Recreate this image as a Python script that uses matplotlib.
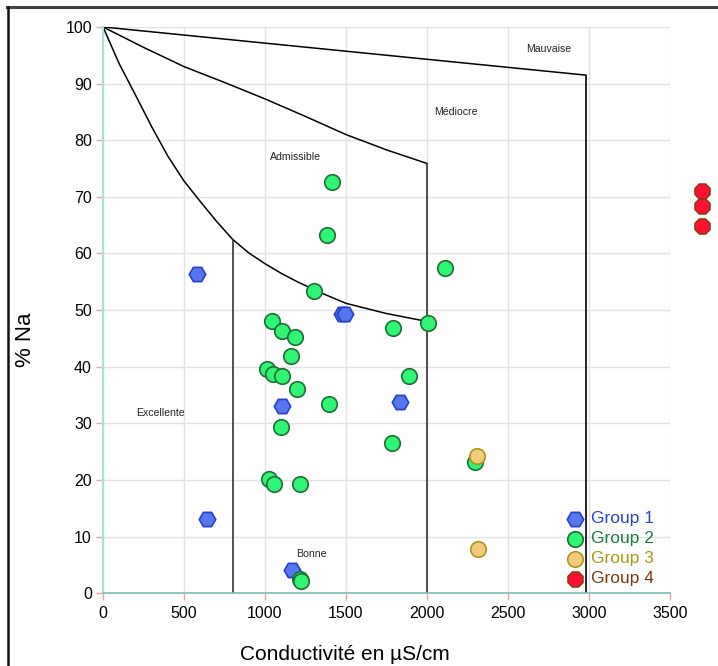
import matplotlib
matplotlib.use("Agg")
import matplotlib.pyplot as plt
from matplotlib.lines import Line2D

plt.rcParams['font.family'] = ['Liberation Sans', 'DejaVu Sans']

# Wilcox boundaries (conductivity, %Na)
limit_top_x = [0, 2980]
limit_top_y = [100, 91.5]
limit_mid_x = [0, 250, 500, 750, 1000, 1250, 1500, 1750, 2000]
limit_mid_y = [100, 96.4, 93.0, 90.2, 87.3, 84.2, 81.0, 78.3, 75.9]
limit_low_x = [0, 100, 200, 300, 400, 500, 600, 700, 800, 900, 1000, 1100, 1200,
               1350, 1500, 1750, 2000]
limit_low_y = [100, 93.5, 88.0, 82.4, 77.2, 72.8, 69.2, 65.7, 62.5, 60.1, 58.2, 56.5, 55.0,
               53.0, 51.2, 49.4, 48.0]
vlines_x = [800, 2000, 2980]
vlines_top = [62.5, 75.9, 91.5]

# samples
g1_x = [580, 1474, 1495, 640, 1104, 1167, 1834]
g1_y = [56.3, 49.3, 49.3, 13.1, 33.0, 4.1, 33.7]
g2_x = [1412, 1384, 1305, 1046, 1104, 1186, 2112, 2009, 1789, 1161, 1015, 1048,
        1104, 1196, 1398, 1099, 1027, 1056, 1215, 1215, 1220, 1892, 1785, 2298]
g2_y = [72.7, 63.3, 53.4, 48.1, 46.4, 45.3, 57.5, 47.8, 46.8, 41.9, 39.6, 38.8,
        38.3, 36.0, 33.4, 29.4, 20.2, 19.3, 19.3, 2.6, 2.1, 38.4, 26.5, 23.1]
g3_x = [2308, 2316]
g3_y = [24.2, 7.9]
g4_x = [3700, 3700, 3700]
g4_y = [71.0, 68.4, 64.9]

zones = ["Excellente", "Bonne", "Admissible", "Médiocre", "Mauvaise"]
zone_x = [356, 1287, 1186, 2180, 2750]
zone_y = [31.9, 6.9, 77.0, 85.0, 96.1]

fig = plt.figure(figsize=(7.18, 6.66), dpi=100)
ax = fig.add_axes([0.1435, 0.1092, 0.7895, 0.8503])

# figure frame (cut at right and bottom like the original)
fig.add_artist(Line2D([7 / 718, 1], [1 - 7 / 666, 1 - 7 / 666], color="#444444", lw=2.2))
fig.add_artist(Line2D([8 / 718, 8 / 718], [0, 1 - 7 / 666], color="#111111", lw=1.8))

ax.set_xlim(0, 3500)
ax.set_ylim(0, 100)
ax.set_xticks(range(0, 3501, 500))
ax.set_yticks(range(0, 101, 10))
ax.grid(True, color="#e2e2e2", lw=1)
ax.set_axisbelow(True)
for s in ["top", "right"]:
    ax.spines[s].set_visible(False)
ax.spines["left"].set_color("#a8e0e0")
ax.spines["left"].set_linewidth(1.6)
ax.spines["bottom"].set_color("#78c0b8")
ax.spines["bottom"].set_linewidth(1.2)
ax.tick_params(length=5, width=1, color="#e8a0a0", labelsize=11.5, pad=4)
ax.tick_params(axis="y", pad=3)

# boundaries
ax.plot(limit_top_x, limit_top_y, color="black", lw=1.1)
ax.plot(limit_mid_x, limit_mid_y, color="black", lw=1.1)
ax.plot(limit_low_x, limit_low_y, color="black", lw=1.1)
ax.vlines(vlines_x, 0, vlines_top, colors=["#333333", "#333333", "black"], lw=1.2)

for name, zx, zy in zip(zones, zone_x, zone_y):
    ax.text(zx, zy, name, fontsize=7.6, ha="center", va="center", color="#222222")

# samples
h1 = ax.scatter(g1_x, g1_y, marker="H", s=140, color="#5675f0", edgecolors="#2440c8", lw=1.2, zorder=3, label="Group 1")
h2 = ax.scatter(g2_x, g2_y, marker="o", s=125, color="#2ef572", edgecolors="#1d6e36", lw=1.2, zorder=3, label="Group 2")
h3 = ax.scatter(g3_x, g3_y, marker="o", s=125, color="#f5c87a", edgecolors="#a8961a", lw=1.2, zorder=3, label="Group 3")
h4 = ax.scatter(g4_x, g4_y, marker="8", s=135, color="#ff1030", edgecolors="#8a3a10", lw=1.2, zorder=3, label="Group 4", clip_on=False)

leg = ax.legend(handles=[h1, h2, h3, h4], loc="lower right", bbox_to_anchor=(0.985, 0.0),
                frameon=False, fontsize=12.5, handletextpad=0.35, labelspacing=0.28,
                borderaxespad=0, handlelength=1.2)
for t, c in zip(leg.get_texts(), ["#2a44c8", "#1a7a40", "#a89a12", "#7a3a10"]):
    t.set_color(c)

ax.set_xlabel("Conductivité en µS/cm", fontsize=15)
ax.set_ylabel("% Na", fontsize=16)
ax.xaxis.set_label_coords(0.427, -0.109)
ax.xaxis.label.set_va("center")
ax.yaxis.set_label_coords(-0.136, 0.448)
ax.yaxis.label.set_va("center")

fig.savefig("out.png", dpi=100)
